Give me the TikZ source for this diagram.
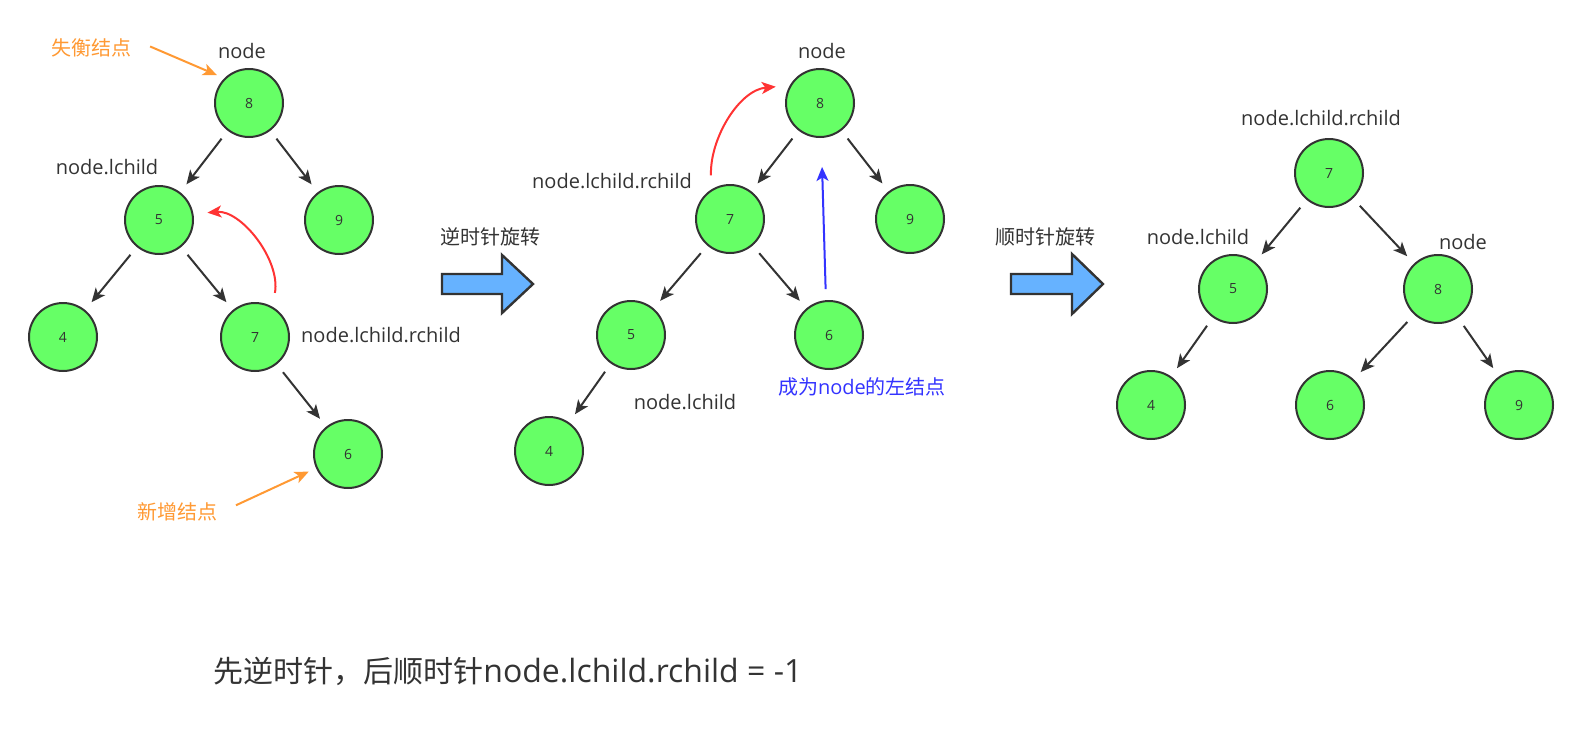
\documentclass[tikz,border=0pt]{standalone}
\usepackage{fontspec}
\setmainfont{Open Sans}
\newfontfamily\cjk{Noto Sans CJK SC}
\usetikzlibrary{arrows.meta}

\definecolor{nodegreen}{HTML}{66FF66}
\definecolor{darkline}{HTML}{333333}
\definecolor{turnblue}{HTML}{66B2FF}
\definecolor{hintorange}{HTML}{FF9933}
\definecolor{turnred}{HTML}{FF3333}
\definecolor{moveblue}{HTML}{3333FF}

\tikzset{
  vertex/.style={circle,draw=darkline,fill=nodegreen,line width=1pt,minimum size=34pt,
    inner sep=0pt,text=darkline,font=\fontsize{7}{8}\selectfont},
  lbl/.style={text=darkline,font=\fontsize{10}{12}\selectfont,inner sep=2pt},
  hint/.style={lbl,text=hintorange},
  hintarrow/.style={draw=hintorange,line width=1pt,->,shorten <=8pt,shorten >=4pt},
  turnarrow/.style={draw=turnred,line width=1pt,->,shorten <=7pt,shorten >=7pt},
  movearrow/.style={draw=moveblue,line width=1pt,->,shorten <=5.5pt,shorten >=14.5pt},
  blockarrow/.style={draw=darkline,fill=turnblue,line width=1.2pt}
}

\begin{document}
\begin{tikzpicture}[x=0.5pt,y=-0.5pt,
  >={Stealth[length=7pt,width=6pt,inset=1.8pt]},
  edge from parent/.style={draw=darkline,line width=1pt,->,shorten <=5pt,shorten >=5pt}]
\useasboundingbox (0,0) rectangle (1579,745);

% before: 6 added under 7
\begin{scope}[level distance=58.5pt,
  level 1/.style={sibling distance=90pt},
  level 2/.style={sibling distance=96pt},
  level 3/.style={sibling distance=93pt}]
\node[vertex] (l8) at (249,103) {8}
  child{
    node[vertex] (l5) {5}
    child{
      node[vertex] (l4) {4}
    }
    child{
      node[vertex] (l7) {7}
      child[missing]
      child{
        node[vertex] (l6) {6}
      }
    }
  }
  child{
    node[vertex] (l9) {9}
  };
\end{scope}

% after the left turn
\begin{scope}[level distance=58pt,
  level 1/.style={sibling distance=90pt},
  level 2/.style={sibling distance=99pt},
  level 3/.style={sibling distance=82pt}]
\node[vertex] (m8) at (820,103) {8}
  child{
    node[vertex] (m7) {7}
    child{
      node[vertex] (m5) {5}
      child{
        node[vertex] (m4) {4}
      }
      child[missing]
    }
    child{
      node[vertex] (m6) {6}
    }
  }
  child{
    node[vertex] (m9) {9}
  };
\end{scope}

% after the right turn
\begin{scope}[level distance=58pt,
  level 1/.style={sibling distance=96pt}]
\node[vertex] (r7) at (1329,173) {7}
  child{
    node[vertex] (r5) {5} [sibling distance=82pt]
    child{
      node[vertex] (r4) {4}
    }
    child[missing]
  }
  child{
    node[vertex,xshift=6.5pt] (r8) {8} [sibling distance=94.5pt]
    child{
      node[vertex,xshift=-6.75pt] (r6) {6}
    }
    child{
      node[vertex,xshift=-6.75pt] (r9) {9}
    }
  };
\end{scope}

% labels
\node[hint] (lost) at (91,48) {\cjk 失衡结点};
\node[lbl] (lroot) at (242,51) {node};
\node[lbl] (llc) at (107,167) {node.lchild};
\node[lbl] (llcrc) at (381,335) {node.lchild.rchild};
\node[hint] (added) at (177,512) {\cjk 新增结点};

\node[lbl] (ccw) at (490,237) {\cjk 逆时针旋转};
\node[lbl] (mroot) at (822,51) {node};
\node[lbl] (mlcrc) at (612,181) {node.lchild.rchild};
\node[lbl] (mlc) at (685,402) {node.lchild};
\node[lbl,text=moveblue] (mnote) at (862,387) {{\cjk 成为}node{\cjk 的左结点}};

\node[lbl] (cw) at (1045,237) {\cjk 顺时针旋转};
\node[lbl] (rlcrc) at (1321,118) {node.lchild.rchild};
\node[lbl] (rlc) at (1198,237) {node.lchild};
\node[lbl] (rroot) at (1463,242) {node};

\node[lbl,anchor=west,inner sep=0pt,font=\fontsize{15}{18}\selectfont] (sum) at (213,671)
  {{\cjk 先逆时针，后顺时针}{\fontsize{16}{18}\selectfont node.lchild.rchild = -1}};

% block arrows
\draw[blockarrow] (442,274) -- (502,274) -- (502,255) -- (533,284) -- (502,313) -- (502,294) -- (442,294) -- cycle;
\draw[blockarrow] (1011,274) -- (1072,274) -- (1072,254) -- (1103,284) -- (1072,314) -- (1072,294) -- (1011,294) -- cycle;

% hints and moves
\draw[hintarrow] (lost.10) -- (l8.135);
\draw[hintarrow] (added.east) -- (l6.204);
\draw[turnarrow] (l7.60) to[out=80,in=5] (l5.10);
\draw[turnarrow] (m7.122) to[out=92,in=185] (m8.150);
\draw[movearrow] (m6.95) -- (m8.-88);
\end{tikzpicture}
\end{document}
